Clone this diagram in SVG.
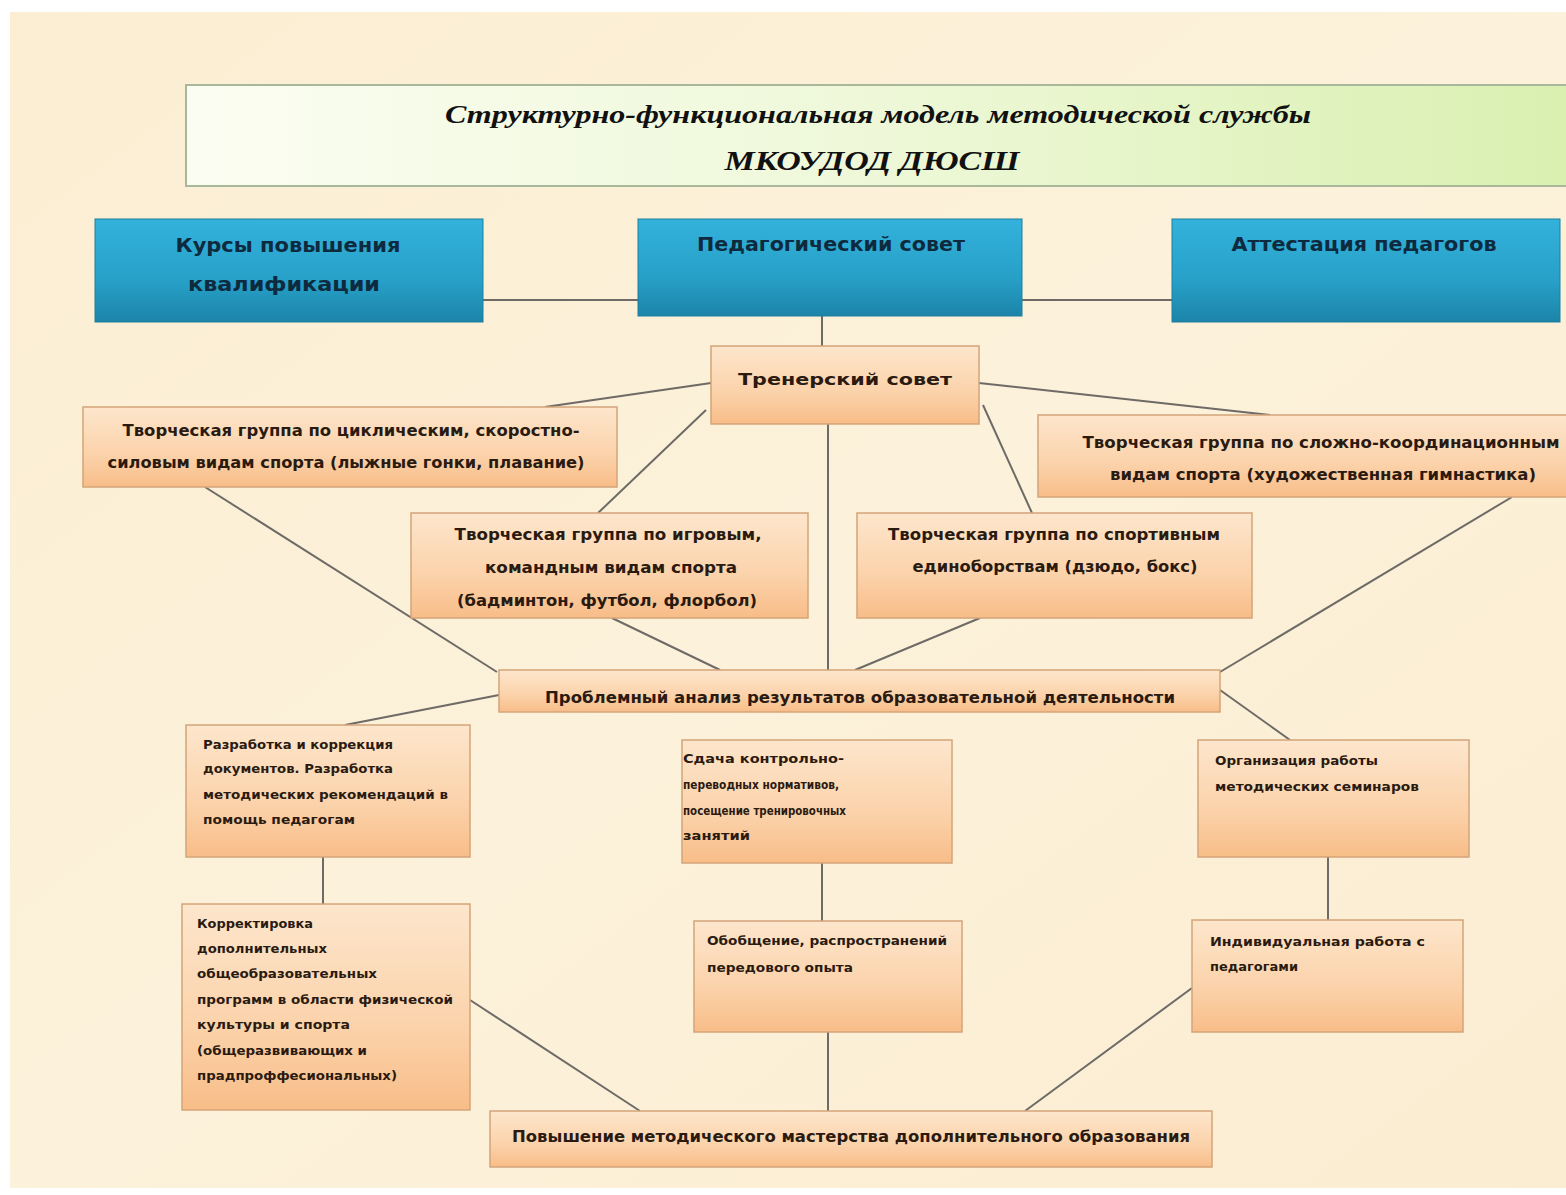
<svg xmlns="http://www.w3.org/2000/svg" width="1566" height="1195" viewBox="0 0 1566 1195">
<defs>
<linearGradient id="bg" x1="0" y1="0" x2="1" y2="1">
<stop offset="0" stop-color="#fbeed3"/><stop offset="0.5" stop-color="#fcf1da"/><stop offset="1" stop-color="#fbedd2"/>
</linearGradient>
<linearGradient id="green" x1="0" y1="0" x2="1" y2="0">
<stop offset="0" stop-color="#fbfdf2"/><stop offset="0.5" stop-color="#eef8d8"/><stop offset="1" stop-color="#d9f0b0"/>
</linearGradient>
<linearGradient id="blue" x1="0" y1="0" x2="0" y2="1">
<stop offset="0" stop-color="#33b2dc"/><stop offset="0.6" stop-color="#27a0c8"/><stop offset="1" stop-color="#1c84a8"/>
</linearGradient>
<linearGradient id="orange" x1="0" y1="0" x2="0" y2="1">
<stop offset="0" stop-color="#fde6cc"/><stop offset="0.6" stop-color="#fbd2aa"/><stop offset="1" stop-color="#f8bd88"/>
</linearGradient>
</defs>
<style>
.or{fill:url(#orange);stroke:#d4a47a;stroke-width:1.5}
.bl{fill:url(#blue);stroke:#1f7e9e;stroke-width:1}
.bt{font-family:"DejaVu Sans",sans-serif;font-weight:bold;font-size:20px;fill:#0e2a3e;text-anchor:middle}
.mt{font-family:"DejaVu Sans",sans-serif;font-weight:bold;font-size:15px;fill:#2a1a10;text-anchor:middle}
.st{font-family:"DejaVu Sans",sans-serif;font-weight:bold;font-size:11.5px;fill:#2a1a10}
.tt{font-family:"Liberation Serif",serif;font-weight:bold;font-style:italic;fill:#111;text-anchor:middle}
.cn line{stroke:#6e6a66;stroke-width:2}
</style>
<rect x="0" y="0" width="1566" height="1195" fill="#ffffff"/>
<rect x="10" y="12" width="1556" height="1176" fill="url(#bg)"/>

<g id="title">
<rect x="186" y="85" width="1390" height="101" fill="url(#green)" stroke="#a9b89a" stroke-width="2"/>
<text class="tt" x="878" y="123" font-size="25" textLength="866" lengthAdjust="spacingAndGlyphs">Структурно-функциональная модель методической службы</text>
<text class="tt" x="872" y="170" font-size="28" textLength="295" lengthAdjust="spacingAndGlyphs">МКОУДОД ДЮСШ</text>
</g>

<g class="cn" id="connectors">
<line x1="483" y1="300" x2="638" y2="300"/>
<line x1="1022" y1="300" x2="1172" y2="300"/>
<line x1="822" y1="316" x2="822" y2="346"/>
<line x1="711" y1="383" x2="545" y2="407"/>
<line x1="979" y1="383" x2="1270" y2="415"/>
<line x1="706" y1="410" x2="598" y2="513"/>
<line x1="983" y1="405" x2="1032" y2="513"/>
<line x1="828" y1="424" x2="828" y2="670"/>
<line x1="205" y1="487" x2="497" y2="672"/>
<line x1="612" y1="618" x2="720" y2="670"/>
<line x1="980" y1="618" x2="855" y2="670"/>
<line x1="1512" y1="497" x2="1220" y2="672"/>
<line x1="499" y1="695" x2="345" y2="725"/>
<line x1="1220" y1="690" x2="1290" y2="740"/>
<line x1="323" y1="857" x2="323" y2="904"/>
<line x1="822" y1="863" x2="822" y2="921"/>
<line x1="1328" y1="857" x2="1328" y2="920"/>
<line x1="470" y1="1000" x2="640" y2="1111"/>
<line x1="828" y1="1032" x2="828" y2="1111"/>
<line x1="1192" y1="988" x2="1025" y2="1111"/>
</g>

<g id="kursy">
<rect class="bl" x="95" y="219" width="388" height="103"/>
<text class="bt" x="288" y="252" textLength="225" lengthAdjust="spacingAndGlyphs">Курсы повышения</text>
<text class="bt" x="284" y="291" textLength="192" lengthAdjust="spacingAndGlyphs">квалификации</text>
</g>
<g id="pedsovet">
<rect class="bl" x="638" y="219" width="384" height="97"/>
<text class="bt" x="831" y="251" textLength="268" lengthAdjust="spacingAndGlyphs">Педагогический совет</text>
</g>
<g id="attestacia">
<rect class="bl" x="1172" y="219" width="388" height="103"/>
<text class="bt" x="1364" y="251" textLength="265" lengthAdjust="spacingAndGlyphs">Аттестация педагогов</text>
</g>

<g id="trener">
<rect class="or" x="711" y="346" width="268" height="78"/>
<text class="mt" x="845" y="385" font-size="21" textLength="214" lengthAdjust="spacingAndGlyphs">Тренерский совет</text>
</g>
<g id="cikl">
<rect class="or" x="83" y="407" width="534" height="80"/>
<text class="mt" x="351" y="436" textLength="457" lengthAdjust="spacingAndGlyphs">Творческая группа по циклическим, скоростно-</text>
<text class="mt" x="346" y="468" textLength="477" lengthAdjust="spacingAndGlyphs">силовым видам спорта (лыжные гонки, плавание)</text>
</g>
<g id="slozhno">
<rect class="or" x="1038" y="415" width="535" height="82"/>
<text class="mt" x="1321" y="448" textLength="477" lengthAdjust="spacingAndGlyphs">Творческая группа по сложно-координационным</text>
<text class="mt" x="1323" y="480" textLength="426" lengthAdjust="spacingAndGlyphs">видам спорта (художественная гимнастика)</text>
</g>
<g id="igrovye">
<rect class="or" x="411" y="513" width="397" height="105"/>
<text class="mt" x="608" y="540" textLength="307" lengthAdjust="spacingAndGlyphs">Творческая группа по игровым,</text>
<text class="mt" x="611" y="573" textLength="252" lengthAdjust="spacingAndGlyphs">командным видам спорта</text>
<text class="mt" x="607" y="606" textLength="300" lengthAdjust="spacingAndGlyphs">(бадминтон, футбол, флорбол)</text>
</g>
<g id="edinob">
<rect class="or" x="857" y="513" width="395" height="105"/>
<text class="mt" x="1054" y="540" textLength="332" lengthAdjust="spacingAndGlyphs">Творческая группа по спортивным</text>
<text class="mt" x="1055" y="572" textLength="285" lengthAdjust="spacingAndGlyphs">единоборствам (дзюдо, бокс)</text>
</g>
<g id="analiz">
<rect class="or" x="499" y="670" width="721" height="42"/>
<text class="mt" x="860" y="703" textLength="630" lengthAdjust="spacingAndGlyphs">Проблемный анализ результатов образовательной деятельности</text>
</g>
<g id="razrabotka">
<rect class="or" x="186" y="725" width="284" height="132"/>
<text class="st" x="203" y="749" textLength="190" lengthAdjust="spacingAndGlyphs">Разработка и коррекция</text>
<text class="st" x="203" y="773" textLength="190" lengthAdjust="spacingAndGlyphs">документов. Разработка</text>
<text class="st" x="203" y="799" textLength="245" lengthAdjust="spacingAndGlyphs">методических рекомендаций в</text>
<text class="st" x="203" y="824" textLength="152" lengthAdjust="spacingAndGlyphs">помощь педагогам</text>
</g>
<g id="sdacha">
<rect class="or" x="682" y="740" width="270" height="123"/>
<text class="st" x="683" y="763" textLength="161" lengthAdjust="spacingAndGlyphs">Сдача контрольно-</text>
<text class="st" x="683" y="789" textLength="156" lengthAdjust="spacingAndGlyphs">переводных нормативов,</text>
<text class="st" x="683" y="815" textLength="163" lengthAdjust="spacingAndGlyphs">посещение тренировочных</text>
<text class="st" x="683" y="840" textLength="67" lengthAdjust="spacingAndGlyphs">занятий</text>
</g>
<g id="organizacia">
<rect class="or" x="1198" y="740" width="271" height="117"/>
<text class="st" x="1215" y="765" textLength="163" lengthAdjust="spacingAndGlyphs">Организация работы</text>
<text class="st" x="1215" y="791" textLength="204" lengthAdjust="spacingAndGlyphs">методических семинаров</text>
</g>
<g id="korrekt">
<rect class="or" x="182" y="904" width="288" height="206"/>
<text class="st" x="197" y="928" textLength="116" lengthAdjust="spacingAndGlyphs">Корректировка</text>
<text class="st" x="197" y="953" textLength="130" lengthAdjust="spacingAndGlyphs">дополнительных</text>
<text class="st" x="197" y="978" textLength="180" lengthAdjust="spacingAndGlyphs">общеобразовательных</text>
<text class="st" x="197" y="1004" textLength="256" lengthAdjust="spacingAndGlyphs">программ в области физической</text>
<text class="st" x="197" y="1029" textLength="153" lengthAdjust="spacingAndGlyphs">культуры и спорта</text>
<text class="st" x="197" y="1055" textLength="170" lengthAdjust="spacingAndGlyphs">(общеразвивающих и</text>
<text class="st" x="197" y="1080" textLength="200" lengthAdjust="spacingAndGlyphs">прадпроффесиональных)</text>
</g>
<g id="obobshenie">
<rect class="or" x="694" y="921" width="268" height="111"/>
<text class="st" x="707" y="945" textLength="240" lengthAdjust="spacingAndGlyphs">Обобщение, распространений</text>
<text class="st" x="707" y="972" textLength="146" lengthAdjust="spacingAndGlyphs">передового опыта</text>
</g>
<g id="individ">
<rect class="or" x="1192" y="920" width="271" height="112"/>
<text class="st" x="1210" y="946" textLength="215" lengthAdjust="spacingAndGlyphs">Индивидуальная работа с</text>
<text class="st" x="1210" y="971" textLength="88" lengthAdjust="spacingAndGlyphs">педагогами</text>
</g>
<g id="povyshenie">
<rect class="or" x="490" y="1111" width="722" height="56"/>
<text class="mt" x="851" y="1142" textLength="678" lengthAdjust="spacingAndGlyphs">Повышение методического мастерства дополнительного образования</text>
</g>
</svg>
